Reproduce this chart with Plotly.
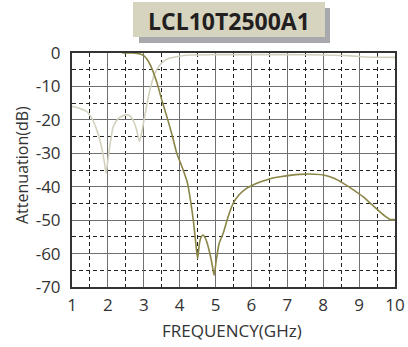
import plotly.graph_objects as go

title_text = "LCL10T2500A1"

s21_freq = [2.4, 2.7, 2.9, 3.0, 3.1, 3.2, 3.37, 3.5, 3.67, 3.8, 3.92, 4.08, 4.22, 4.3, 4.38, 4.44,
            4.50, 4.55, 4.60, 4.66, 4.74, 4.82, 4.90, 4.96, 5.02, 5.10, 5.21, 5.35, 5.49, 5.65,
            5.86, 6.0, 6.24, 6.52, 6.8, 7.07, 7.35, 7.63, 8.0, 8.3, 8.56, 8.85, 9.11, 9.35,
            9.58, 9.75, 9.86, 10.0]
s21_db = [0, 0, -0.3, -0.8, -2, -4, -9, -14, -20, -25, -30, -34.5, -39, -44, -50, -56,
          -61.5, -57, -55, -54.5, -56, -59, -63, -66.5, -62, -57, -54, -49, -45, -42.5,
          -40.5, -39.7, -38.6, -37.6, -37, -36.6, -36.3, -36.2, -36.5, -37.5, -39, -41, -43, -45.3,
          -47.5, -49, -49.8, -49.8]

s11_freq = [1.0, 1.2, 1.41, 1.55, 1.69, 1.8, 1.9, 1.95, 2.0, 2.08, 2.15, 2.3, 2.48, 2.6, 2.7,
            2.8, 2.88, 2.94, 2.99, 3.06, 3.13, 3.22, 3.31, 3.42, 3.54, 3.7, 3.92, 4.29, 5.0,
            6.0, 7.0, 8.0, 8.7, 9.2, 10.0]
s11_db = [-16, -16.5, -17.5, -19.5, -23, -27, -32.5, -36, -32, -26, -22, -19.5, -18.5, -18.7, -20,
          -23, -26.5, -24, -21, -17, -13, -9, -6, -4, -2.6, -1.6, -1.1, -0.6, -0.5,
          -0.5, -0.5, -0.6, -0.8, -1.2, -1.3]

x_ticks = [1, 2, 3, 4, 5, 6, 7, 8, 9, 10]
y_ticks = [0, -10, -20, -30, -40, -50, -60, -70]

# plot area in pixels
L, R, T, B = 72, 395, 53, 287
W, H = R - L, B - T


def px(x):
    return (x - L) / W


def py(y):
    return (B - y) / H


fig = go.Figure()
fig.add_trace(go.Scatter(x=s11_freq, y=s11_db, mode="lines",
                         line=dict(color="#d3d1bd", width=1.6, shape="spline", smoothing=0.6),
                         showlegend=False, hoverinfo="skip"))
fig.add_trace(go.Scatter(x=s21_freq, y=s21_db, mode="lines",
                         line=dict(color="#8b8547", width=1.6, shape="spline", smoothing=0.6),
                         showlegend=False, hoverinfo="skip"))

fig.update_layout(
    width=408, height=347,
    margin=dict(l=L, r=408 - R, t=T, b=347 - B),
    paper_bgcolor="white", plot_bgcolor="white",
    font=dict(family="Open Sans, Noto Sans, sans-serif", color="#333333", size=17),
    xaxis=dict(range=[1, 10], tickvals=x_ticks, ticktext=[str(v) for v in x_ticks],
               showgrid=True, gridcolor="#707070", gridwidth=1.3,
               minor=dict(dtick=0.5, tick0=1, showgrid=True, gridcolor="#222222",
                          griddash="4px,3px", gridwidth=1),
               showline=True, linecolor="#333333", linewidth=2, mirror=True,
               ticks="", zeroline=False, tickfont=dict(size=17), automargin=False,
               ticklabelstandoff=2),
    yaxis=dict(range=[-70, 0], tickvals=y_ticks, ticktext=[str(v) for v in y_ticks],
               showgrid=True, gridcolor="#707070", gridwidth=1.3,
               minor=dict(dtick=5, tick0=0, showgrid=True, gridcolor="#222222",
                          griddash="4px,3px", gridwidth=1),
               showline=True, linecolor="#333333", linewidth=2, mirror=True,
               ticks="", zeroline=False, tickfont=dict(size=17), automargin=False,
               ticklabelstandoff=6),
    shapes=[
        dict(type="rect", xref="paper", yref="paper", layer="below",
             x0=px(139), x1=px(330), y0=py(43), y1=py(8),
             fillcolor="#a8a9ac", line=dict(width=0)),
        dict(type="rect", xref="paper", yref="paper", layer="below",
             x0=px(133), x1=px(325), y0=py(37), y1=py(2),
             fillcolor="#d6d4bf", line=dict(width=0)),
    ],
    annotations=[
        dict(text="<b>" + title_text + "</b>", xref="paper", yref="paper",
             x=px(229), y=py(21), showarrow=False,
             font=dict(size=23, color="#231f20", family="Open Sans, sans-serif"),
             xanchor="center", yanchor="middle"),
        dict(text="FREQUENCY(GHz)", xref="paper", yref="paper",
             x=px(232), y=py(330), showarrow=False,
             font=dict(size=17, color="#333333"), xanchor="center", yanchor="middle"),
        dict(text="Attenuation(dB)", xref="paper", yref="paper",
             x=px(22), y=py(165), showarrow=False, textangle=-90,
             font=dict(size=16, color="#333333"), xanchor="center", yanchor="middle"),
    ],
)

fig.write_html("out.html", config={"displayModeBar": False},
               post_script="document.body.style.margin='0px';")
